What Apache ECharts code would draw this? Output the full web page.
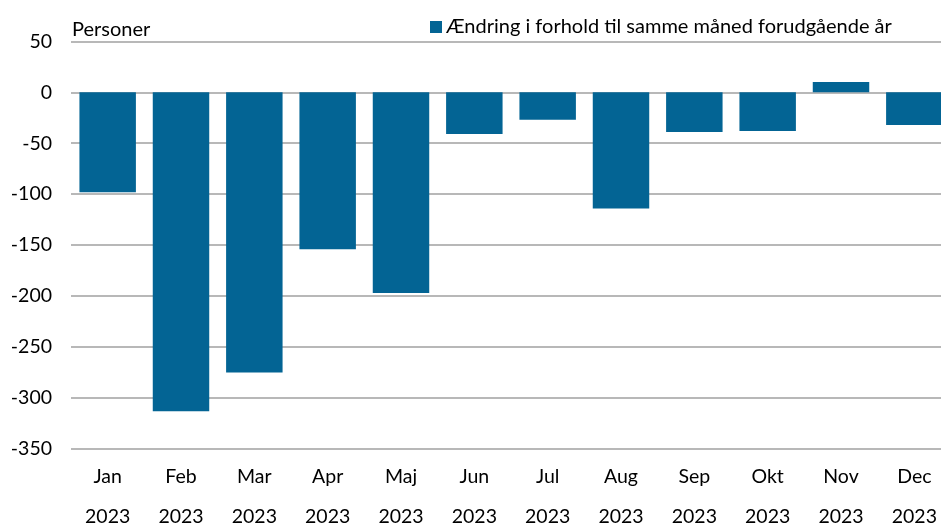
<!DOCTYPE html>
<html>
<head>
<meta charset="utf-8">
<script src="https://cdn.jsdelivr.net/npm/echarts@6/dist/echarts.min.js"></script>
<style>
html,body{margin:0;padding:0;background:#fff;}
#chart{width:941px;height:526px;}
</style>
</head>
<body>
<div id="chart"></div>
<script>
var months = ["Jan","Feb","Mar","Apr","Maj","Jun","Jul","Aug","Sep","Okt","Nov","Dec"];
var years = ["2023","2023","2023","2023","2023","2023","2023","2023","2023","2023","2023","2023"];
var values = [-98, -313, -275, -154, -197, -41, -27, -114, -39, -38, 10, -32];
var seriesName = "Ændring i forhold til samme måned forudgående år";
var yUnit = "Personer";

var categories = months.map(function(m, i){ return m + "\n" + years[i]; });
var font = "Lato";
var chart = echarts.init(document.getElementById('chart'), null, {renderer:'canvas'});
chart.setOption({
  animation: false,
  backgroundColor: '#ffffff',
  title: {
    text: yUnit, left: 67, top: 15,
    textStyle: {fontFamily: font, fontSize: 20, fontWeight: 'normal', color: '#000'}
  },
  legend: {
    data: [seriesName], left: 425, top: 12,
    icon: 'rect', itemWidth: 12, itemHeight: 12, itemGap: 4,
    textStyle: {fontFamily: font, fontSize: 20, color: '#000', padding: [0,0,0,-1]}
  },
  grid: {left: 71, right: -10, top: 41.3, bottom: 77, containLabel: false, outerBoundsMode: 'none'},
  xAxis: {
    type: 'category', data: categories,
    axisLine: {show: false}, axisTick: {show: false},
    axisLabel: {fontFamily: font, fontSize: 19.5, color: '#000', lineHeight: 40, margin: 8}
  },
  yAxis: {
    type: 'value', min: -350, max: 50, interval: 50,
    axisLine: {show: false}, axisTick: {show: false},
    axisLabel: {fontFamily: font, fontSize: 19.5, color: '#000', margin: 19},
    splitLine: {lineStyle: {color: '#a0a0a0', width: 1.5}}
  },
  series: [{
    name: seriesName, type: 'bar', data: values,
    barCategoryGap: '23%',
    itemStyle: {color: '#036494'}
  }]
});
</script>
</body>
</html>
